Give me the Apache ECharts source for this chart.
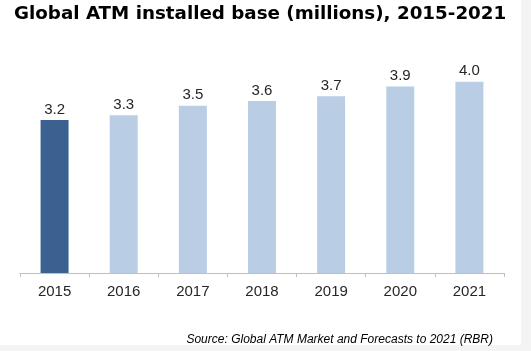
<!DOCTYPE html>
<html>
<head>
<meta charset="utf-8">
<script src="https://cdn.jsdelivr.net/npm/echarts@6/dist/echarts.min.js"></script>
<style>
  html, body { margin: 0; padding: 0; background: #f4f4f4; }
  #main { width: 531px; height: 351px; }
</style>
</head>
<body>
<div id="main"></div>
<script>
// installed base, millions
var years = ['2015', '2016', '2017', '2018', '2019', '2020', '2021'];
var atmBase = [3.2, 3.3, 3.5, 3.6, 3.7, 3.9, 4.0];
var highlightYear = '2015';

var chart = echarts.init(document.getElementById('main'));

chart.setOption({
  backgroundColor: '#f4f4f4',
  animation: false,
  title: {
    text: 'Global ATM installed base (millions), 2015-2021',
    left: 9,
    top: 0,
    textStyle: { fontFamily: 'DejaVu Sans', fontWeight: 'bold', fontSize: 18.3, color: '#000' }
  },
  graphic: [
    { type: 'rect', shape: { x: 0, y: 0, width: 521, height: 345 }, style: { fill: '#fff' }, z: -10, silent: true },
    {
      type: 'text', right: 38, top: 334,
      style: {
        text: 'Source: Global ATM Market and Forecasts to 2021 (RBR)',
        font: 'italic 12px "Liberation Sans"', fill: '#000'
      }
    }
  ],
  grid: { left: 20, right: 27, top: 34, bottom: 78 },
  xAxis: {
    type: 'category',
    data: years,
    axisLine: { lineStyle: { color: '#bfbfbf', width: 1 } },
    axisTick: { show: true, length: 4, lineStyle: { color: '#bfbfbf' } },
    axisLabel: { margin: 11, fontFamily: 'Liberation Sans', fontSize: 15, color: '#262626' }
  },
  yAxis: {
    type: 'value', min: 0, max: 5, show: false, splitLine: { show: false }
  },
  series: [{
    type: 'bar',
    barWidth: 28,
    data: atmBase.map(function (v, i) {
      return {
        value: v,
        itemStyle: { color: years[i] === highlightYear ? '#3b6191' : '#b9cde5' }
      };
    }),
    label: {
      show: true,
      position: 'top',
      distance: 3,
      formatter: function (p) { return p.value.toFixed(1); },
      fontFamily: 'Liberation Sans', fontSize: 15, color: '#262626'
    }
  }]
});
</script>
</body>
</html>
